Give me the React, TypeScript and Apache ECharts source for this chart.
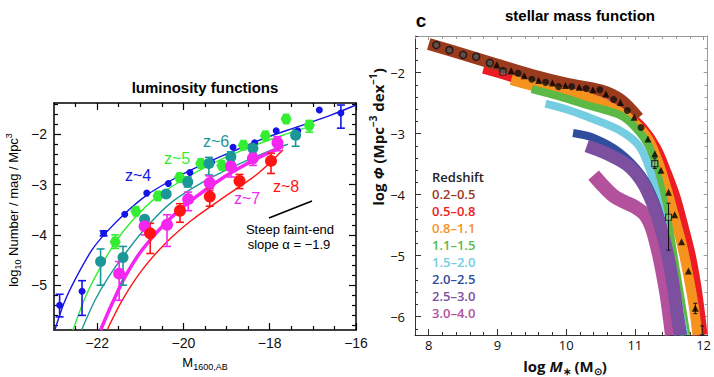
import React, { useEffect, useRef } from 'react';
import * as echarts from 'echarts';

// ---------------- Left panel: UV luminosity functions ----------------
const lfXMajor = [-22, -20, -18, -16];
const lfXMinor = [-22.5, -21.5, -21, -20.5, -19.5, -19, -18.5, -17.5, -17, -16.5];
const lfYMajor = [-5, -4, -3, -2];
const lfYMinor = [-5.8, -5.6, -5.4, -5.2, -4.8, -4.6, -4.4, -4.2, -3.8, -3.6, -3.4, -3.2, -2.8, -2.6, -2.4, -2.2, -1.8, -1.6, -1.4];

const z4Points = [[-22.87, -5.40], [-22.35, -5.12], [-21.85, -3.97], [-21.36, -3.59], [-20.85, -3.17], [-20.35, -2.98], [-19.85, -2.76], [-19.35, -2.55], [-18.85, -2.26], [-18.35, -2.17], [-17.85, -1.93], [-17.35, -1.93], [-16.85, -1.52], [-16.35, -1.58]];
const z4Err = [[-22.87, -5.63, -5.18], [-22.35, -5.60, -4.91], [-21.85, -4.02, -3.92], [-16.35, -1.88, -1.42]];
const z4Curve = [[-22.98, -5.89], [-22.77, -5.36], [-22.5, -4.87], [-22.12, -4.30], [-21.81, -3.97], [-21.35, -3.57], [-20.85, -3.21], [-20.27, -2.91], [-19.65, -2.64], [-18.88, -2.35], [-18.12, -2.08], [-17.35, -1.85], [-16.58, -1.62], [-16.0, -1.42]];

const z5Points = [[-21.58, -4.14], [-21.10, -3.53], [-20.59, -3.23], [-20.09, -2.86], [-19.60, -2.58], [-19.11, -2.62], [-18.61, -2.22], [-18.10, -2.03], [-17.62, -1.70], [-17.08, -1.82]];
const z5Err = [[-21.58, -4.27, -4.00], [-17.08, -1.96, -1.73]];
const z5Curve = [[-22.56, -5.89], [-22.27, -5.23], [-21.96, -4.70], [-21.58, -4.15], [-21.19, -3.72], [-20.65, -3.27], [-20.04, -2.92], [-19.27, -2.56], [-18.5, -2.27], [-17.73, -2.03], [-17.04, -1.84]];

const z6Points = [[-21.92, -4.53], [-21.40, -4.45], [-20.90, -3.69], [-20.40, -3.19], [-19.90, -2.95], [-19.41, -2.58], [-18.90, -2.45], [-18.39, -2.28], [-17.40, -2.02]];
const z6Err = [[-21.92, -5.00, -4.28], [-21.40, -5.00, -4.23], [-19.90, -3.05, -2.85], [-19.41, -2.81, -2.46], [-18.90, -2.55, -2.35], [-17.40, -2.24, -1.91]];
const z6Curve = [[-22.36, -5.89], [-22.05, -5.30], [-21.73, -4.83], [-21.27, -4.28], [-20.81, -3.80], [-20.27, -3.35], [-19.65, -3.00], [-18.88, -2.66], [-18.12, -2.37], [-17.58, -2.20]];

const z7Points = [[-21.49, -4.77], [-20.90, -3.83], [-20.38, -3.80], [-19.89, -3.29], [-19.39, -2.97], [-18.90, -2.64], [-18.39, -2.48], [-17.82, -2.17]];
const z7Err = [[-21.49, -5.30, -4.53], [-20.90, -4.00, -3.72], [-20.38, -4.23, -3.60], [-19.89, -3.52, -3.15], [-19.39, -3.12, -2.83], [-18.90, -2.85, -2.50], [-18.39, -2.62, -2.38], [-17.82, -2.33, -2.05]];
const z7Curve = [[-21.92, -5.89], [-21.65, -5.36], [-21.35, -4.83], [-20.96, -4.30], [-20.42, -3.77], [-19.81, -3.31], [-19.04, -2.84], [-18.27, -2.47], [-17.69, -2.24]];

const z8Points = [[-20.77, -3.97], [-20.08, -3.52], [-19.39, -3.24], [-18.70, -2.93], [-17.97, -2.53]];
const z8Err = [[-20.77, -4.37, -3.77], [-20.08, -3.75, -3.38], [-19.39, -3.43, -3.08], [-18.70, -3.08, -2.80], [-17.97, -2.78, -2.38]];
const z8Curve = [[-21.77, -5.89], [-21.42, -5.30], [-20.96, -4.70], [-20.42, -4.17], [-19.81, -3.71], [-19.04, -3.24], [-18.27, -2.78], [-17.69, -2.31]];

// ---------------- Right panel: stellar mass function ----------------
const smXMajor = [8, 9, 10, 11, 12];
const smXMinor = [7.8, 8.2, 8.4, 8.6, 8.8, 9.2, 9.4, 9.6, 9.8, 10.2, 10.4, 10.6, 10.8, 11.2, 11.4, 11.6, 11.8];
const smYMajor = [-6, -5, -4, -3, -2];
const smYMinor = [-6.2, -5.8, -5.6, -5.4, -5.2, -4.8, -4.6, -4.4, -4.2, -3.8, -3.6, -3.4, -3.2, -2.8, -2.6, -2.4, -2.2, -1.8, -1.6, -1.4];

const redshiftBins = ['0.2–0.5', '0.5–0.8', '0.8–1.1', '1.1–1.5', '1.5–2.0', '2.0–2.5', '2.5–3.0', '3.0–4.0'];
const bandColors = ['#9b3b1d', '#ec1c24', '#f6921e', '#5db946', '#74cde0', '#2f4e9e', '#7c4f9f', '#b3519d'];
const bandWidths = [12, 12, 10, 8, 8, 8, 13, 14];

const band02 = [[8.0, -1.53], [8.5, -1.70], [9.0, -1.87], [9.5, -2.04], [10.0, -2.18], [10.5, -2.29], [10.8, -2.45], [11.05, -2.74]];
const band05 = [[8.8, -1.92], [9.2, -2.05], [9.6, -2.2], [10.0, -2.3], [10.5, -2.5], [10.9, -2.72], [11.1, -2.92], [11.3, -3.25], [11.45, -3.65], [11.58, -4.05], [11.7, -4.55], [11.8, -5.0], [11.88, -5.5], [11.94, -6.0], [11.97, -6.3]];
const band08 = [[9.2, -2.12], [9.7, -2.27], [10.3, -2.4], [10.77, -2.64], [11.0, -2.83], [11.2, -3.1], [11.35, -3.5], [11.48, -3.97], [11.58, -4.38], [11.68, -4.8], [11.77, -5.28], [11.86, -5.85], [11.91, -6.3]];
const band11 = [[9.5, -2.27], [9.9, -2.39], [10.3, -2.53], [10.77, -2.69], [11.0, -2.89], [11.2, -3.2], [11.32, -3.62], [11.43, -4.15], [11.52, -4.7], [11.6, -5.25], [11.68, -5.8], [11.75, -6.3]];
const band15 = [[9.7, -2.51], [10.0, -2.6], [10.3, -2.72], [10.77, -2.94], [11.06, -3.2], [11.22, -3.6], [11.34, -4.12], [11.45, -4.7], [11.55, -5.3], [11.65, -5.9], [11.72, -6.3]];
const band20 = [[10.1, -2.99], [10.4, -3.07], [10.77, -3.3], [11.1, -3.68], [11.3, -4.12], [11.42, -4.58], [11.52, -5.1], [11.6, -5.65], [11.7, -6.3]];
const band25 = [[10.3, -3.2], [10.6, -3.33], [10.9, -3.52], [11.1, -3.78], [11.25, -4.12], [11.38, -4.55], [11.48, -5.0], [11.56, -5.5], [11.62, -6.0], [11.66, -6.3]];
const band30 = [[10.4, -3.68], [10.55, -3.87], [10.7, -4.03], [10.85, -4.12], [11.0, -4.2], [11.15, -4.33], [11.25, -4.55], [11.33, -4.88], [11.4, -5.25], [11.47, -5.7], [11.54, -6.3]];
const bands = [band02, band05, band08, band11, band15, band20, band25, band30];
const bandDrawOrder = [1, 0, 2, 3, 4, 5, 7, 6];

const smOpenCircles = [[8.11, -1.55], [8.30, -1.63], [8.50, -1.71], [8.69, -1.74], [8.89, -1.84]];
const smCircles = [[9.08, -1.96], [9.30, -2.01], [9.50, -2.11], [9.70, -2.16], [9.89, -2.23], [10.08, -2.23], [10.29, -2.26], [10.49, -2.28], [10.69, -2.44], [10.89, -2.62], [11.09, -2.90]];
const smTriangles = [[8.99, -1.87], [9.20, -1.97], [9.39, -2.05], [9.60, -2.13], [9.80, -2.17], [9.99, -2.21], [10.19, -2.24], [10.39, -2.28], [10.58, -2.35], [10.79, -2.49], [10.99, -2.73], [11.19, -3.09], [11.29, -3.33], [11.38, -3.60], [11.49, -3.96], [11.58, -4.33], [11.68, -4.77], [11.78, -5.25], [11.88, -5.86]];
const smSquares = [[9.08, -1.99], [11.29, -3.49], [11.49, -4.37]];
const smErr = [[11.29, -3.57, -3.40], [11.49, -4.91, -4.14], [11.88, -5.95, -5.78], [11.98, -6.3, -6.15]];

const LF_FONT = '"Liberation Sans", Arial, Helvetica, sans-serif';
const SM_FONT = '"Open Sans", "Noto Sans", sans-serif';

const minus = (v: number) => String(v).replace('-', '\u2212');

function makeAxes(gridIndex: number, min: number, max: number, position: string, majors: number[], minors: number[], s: any) {
  const base = { type: 'value', gridIndex, min, max, position, splitLine: { show: false }, minorTick: { show: false }, silent: true, axisPointer: { show: false } };
  const major = {
    ...base,
    axisLine: { show: true, onZero: false, lineStyle: { color: s.lineColor, width: s.lineWidth } },
    axisTick: { show: true, inside: true, length: s.majorLen, customValues: majors, lineStyle: { color: s.lineColor, width: s.tickWidth } },
    axisLabel: s.labels
      ? { show: true, customValues: majors, formatter: minus, margin: s.margin, fontSize: s.fontSize, fontFamily: s.fontFamily, color: '#111' }
      : { show: false },
  };
  const minor = {
    ...base,
    axisLine: { show: false, onZero: false },
    axisTick: { show: true, inside: true, length: s.minorLen, customValues: minors, lineStyle: { color: s.lineColor, width: s.tickWidth } },
    axisLabel: { show: false },
  };
  return [major, minor];
}

function errRender(color: string, cap: number, lw: number) {
  return (params: any, api: any) => {
    const x = api.value(0), lo = api.value(1), hi = api.value(2);
    const t = api.coord([x, hi]);
    const b = api.coord([x, lo]);
    const st = { stroke: color, lineWidth: lw };
    return {
      type: 'group',
      children: [
        { type: 'line', shape: { x1: t[0], y1: t[1], x2: b[0], y2: b[1] }, style: st },
        { type: 'line', shape: { x1: t[0] - cap, y1: t[1], x2: t[0] + cap, y2: t[1] }, style: st },
        { type: 'line', shape: { x1: b[0] - cap, y1: b[1], x2: b[0] + cap, y2: b[1] }, style: st },
      ],
    };
  };
}

const HEX = 'path://M5,0 L15,0 L20,8.66 L15,17.32 L5,17.32 L0,8.66 Z';

const lfSets = [
  { name: 'z~4', color: '#1414e6', pts: z4Points, err: z4Err, curve: z4Curve, size: 7, symbol: 'circle', lw: 1.4 },
  { name: 'z~5', color: '#33ee33', pts: z5Points, err: z5Err, curve: z5Curve, size: 11, symbol: HEX, lw: 1.4 },
  { name: 'z~6', color: '#1c9797', pts: z6Points, err: z6Err, curve: z6Curve, size: 11, symbol: 'circle', lw: 1.4 },
  { name: 'z~7', color: '#f526f0', pts: z7Points, err: z7Err, curve: z7Curve, size: 12, symbol: 'circle', lw: 3.5 },
  { name: 'z~8', color: '#ff1414', pts: z8Points, err: z8Err, curve: z8Curve, size: 12, symbol: 'circle', lw: 1.4 },
];

function buildOption() {
  const lfS = { lineColor: '#000', lineWidth: 1.5, tickWidth: 1.2, majorLen: 7, minorLen: 4, fontSize: 14, fontFamily: LF_FONT };
  const smS = { lineColor: '#333', lineWidth: 1, tickWidth: 1, majorLen: 6, minorLen: 3, fontSize: 13, fontFamily: SM_FONT };
  const smS2 = { ...smS, lineColor: '#9a9a9a', majorLen: 4, minorLen: 3 };

  const xAxis = [
    ...makeAxes(0, -23, -16, 'bottom', lfXMajor, lfXMinor, { ...lfS, labels: true, margin: 6 }),
    ...makeAxes(0, -23, -16, 'top', lfXMajor, lfXMinor, { ...lfS, labels: false }),
    ...makeAxes(1, 7.8, 12.06, 'bottom', smXMajor, smXMinor, { ...smS, labels: true, margin: 3 }),
    ...makeAxes(1, 7.8, 12.06, 'top', smXMajor, smXMinor, { ...smS2, labels: false }),
  ];
  const yAxis = [
    ...makeAxes(0, -5.89, -1.38, 'left', lfYMajor, lfYMinor, { ...lfS, labels: true, margin: 7 }),
    ...makeAxes(0, -5.89, -1.38, 'right', lfYMajor, lfYMinor, { ...lfS, labels: false }),
    ...makeAxes(1, -6.3, -1.4, 'left', smYMajor, smYMinor, { ...smS, labels: true, margin: 10 }),
    ...makeAxes(1, -6.3, -1.4, 'right', smYMajor, smYMinor, { ...smS2, labels: false }),
  ];

  const series: any[] = [];
  lfSets.forEach((s) => {
    series.push({ type: 'line', xAxisIndex: 0, yAxisIndex: 0, data: s.curve, smooth: 0.3, showSymbol: false, symbol: 'none', lineStyle: { color: s.color, width: s.lw }, z: 2 });
  });
  lfSets.forEach((s) => {
    series.push({ type: 'custom', xAxisIndex: 0, yAxisIndex: 0, data: s.err, encode: { x: 0, y: [1, 2] }, renderItem: errRender(s.color, 4, 1.6), z: 3 });
    series.push({ type: 'scatter', xAxisIndex: 0, yAxisIndex: 0, data: s.pts, symbol: s.symbol, symbolSize: s.size, itemStyle: { color: s.color, opacity: 1 }, z: 4 });
  });

  bandDrawOrder.forEach((i) => {
    series.push({ type: 'line', name: redshiftBins[i], xAxisIndex: 4, yAxisIndex: 4, data: bands[i], smooth: 0.3, showSymbol: false, symbol: 'none', lineStyle: { color: bandColors[i], width: bandWidths[i], cap: 'butt', join: 'round' }, z: 2 });
  });
  series.push({ type: 'custom', xAxisIndex: 4, yAxisIndex: 4, data: smErr, encode: { x: 0, y: [1, 2] }, renderItem: errRender('#111', 2, 1), z: 5 });
  series.push({ type: 'scatter', xAxisIndex: 4, yAxisIndex: 4, data: smOpenCircles, symbol: 'circle', symbolSize: 7, itemStyle: { color: '#555', borderColor: '#111', borderWidth: 1.5 }, z: 6 });
  series.push({ type: 'scatter', xAxisIndex: 4, yAxisIndex: 4, data: smCircles, symbol: 'circle', symbolSize: 7, itemStyle: { color: '#111' }, z: 6 });
  series.push({ type: 'scatter', xAxisIndex: 4, yAxisIndex: 4, data: smTriangles, symbol: 'triangle', symbolSize: 7, itemStyle: { color: '#000' }, z: 6 });
  series.push({ type: 'scatter', xAxisIndex: 4, yAxisIndex: 4, data: smSquares, symbol: 'rect', symbolSize: 6, itemStyle: { color: 'rgba(255,255,255,0.3)', borderColor: '#111', borderWidth: 1.2 }, z: 7 });

  const txt = (text: string, x: number, y: number, font: string, fill: string, align = 'center') => ({
    type: 'text', x, y, silent: true, z: 100,
    style: { text, font, fill, textAlign: align, textVerticalAlign: 'middle' },
  });

  const graphic: any[] = [
    txt('luminosity functions', 205, 87, `bold 15px ${LF_FONT}`, '#000'),
    txt('stellar mass function', 580, 15, `bold 15px ${LF_FONT}`, '#000'),
    txt('c', 421, 20, `bold 19px ${LF_FONT}`, '#000'),
    txt('z~4', 138, 175, `16px ${LF_FONT}`, lfSets[0].color),
    txt('z~5', 177, 158, `16px ${LF_FONT}`, lfSets[1].color),
    txt('z~6', 216, 141, `16px ${LF_FONT}`, lfSets[2].color),
    txt('z~7', 247, 198, `16px ${LF_FONT}`, lfSets[3].color),
    txt('z~8', 286, 186, `16px ${LF_FONT}`, lfSets[4].color),
    txt('Steep faint-end', 290, 229, `13px ${LF_FONT}`, '#000'),
    txt('slope \u03b1 = \u22121.9', 289, 244, `13px ${LF_FONT}`, '#000'),
    { type: 'line', silent: true, z: 100, shape: { x1: 269, y1: 218, x2: 312, y2: 201 }, style: { stroke: '#000', lineWidth: 1.6 } },
    {
      type: 'text', x: 205, y: 362, silent: true, z: 100,
      style: {
        text: '{m|M}{s|1600,AB}', textAlign: 'center', textVerticalAlign: 'middle',
        rich: {
          m: { fontSize: 13, fontFamily: LF_FONT, fill: '#000', lineHeight: 18, verticalAlign: 'middle' },
          s: { fontSize: 9, fontFamily: LF_FONT, fill: '#000', lineHeight: 9, verticalAlign: 'bottom' },
        },
      },
    },
    {
      type: 'text', x: 13, y: 210, rotation: Math.PI / 2, silent: true, z: 100,
      style: {
        text: '{a|log}{s|10}{a| Number / mag / Mpc}{p|3}', textAlign: 'center', textVerticalAlign: 'middle',
        rich: {
          a: { fontSize: 13, fontFamily: LF_FONT, fill: '#000', lineHeight: 18, verticalAlign: 'middle' },
          s: { fontSize: 9, fontFamily: LF_FONT, fill: '#000', lineHeight: 9, verticalAlign: 'bottom' },
          p: { fontSize: 9, fontFamily: LF_FONT, fill: '#000', lineHeight: 10, verticalAlign: 'top' },
        },
      },
    },
    {
      type: 'text', x: 565, y: 366, silent: true, z: 100,
      style: {
        text: '{b|log }{i|M}{s|\u2217}{b| (M}{s|\u2299}{b|)}', textAlign: 'center', textVerticalAlign: 'middle',
        rich: {
          b: { fontSize: 15, fontWeight: 'bold', fontFamily: SM_FONT, fill: '#111', lineHeight: 20, verticalAlign: 'middle' },
          i: { fontSize: 15, fontWeight: 'bold', fontStyle: 'italic', fontFamily: SM_FONT, fill: '#111', lineHeight: 20, verticalAlign: 'middle' },
          s: { fontSize: 10, fontWeight: 'bold', fontFamily: SM_FONT, fill: '#111', lineHeight: 10, verticalAlign: 'bottom' },
        },
      },
    },
    {
      type: 'text', x: 378, y: 137, rotation: Math.PI / 2, silent: true, z: 100,
      style: {
        text: '{b|log }{i|\u03a6}{b| (Mpc}{p|\u22123}{b| dex}{p|\u22121}{b|)}', textAlign: 'center', textVerticalAlign: 'middle',
        rich: {
          b: { fontSize: 15, fontWeight: 'bold', fontFamily: SM_FONT, fill: '#111', lineHeight: 20, verticalAlign: 'middle' },
          i: { fontSize: 15, fontWeight: 'bold', fontStyle: 'italic', fontFamily: SM_FONT, fill: '#111', lineHeight: 20, verticalAlign: 'middle' },
          p: { fontSize: 10, fontWeight: 'bold', fontFamily: SM_FONT, fill: '#111', lineHeight: 10, verticalAlign: 'top' },
        },
      },
    },
    txt('Redshift', 432, 177, `600 13px ${SM_FONT}`, '#222', 'left'),
  ];
  redshiftBins.forEach((lab, i) => {
    graphic.push(txt(lab, 432, 194 + i * 17, `600 13px ${SM_FONT}`, bandColors[i], 'left'));
  });

  return {
    animation: false,
    backgroundColor: '#fff',
    grid: [
      { left: 54, top: 103, width: 302, height: 227 },
      { left: 415, top: 36, width: 298, height: 299 },
    ],
    xAxis,
    yAxis,
    series,
    graphic,
  };
}

export default function App() {
  const ref = useRef<HTMLDivElement>(null);
  useEffect(() => {
    const chart = echarts.init(ref.current as HTMLDivElement, null, { renderer: 'svg' });
    chart.setOption(buildOption() as any);
    return () => chart.dispose();
  }, []);
  return <div ref={ref} style={{ position: 'fixed', left: 0, top: 0, width: 714, height: 377, background: '#fff' }} />;
}
